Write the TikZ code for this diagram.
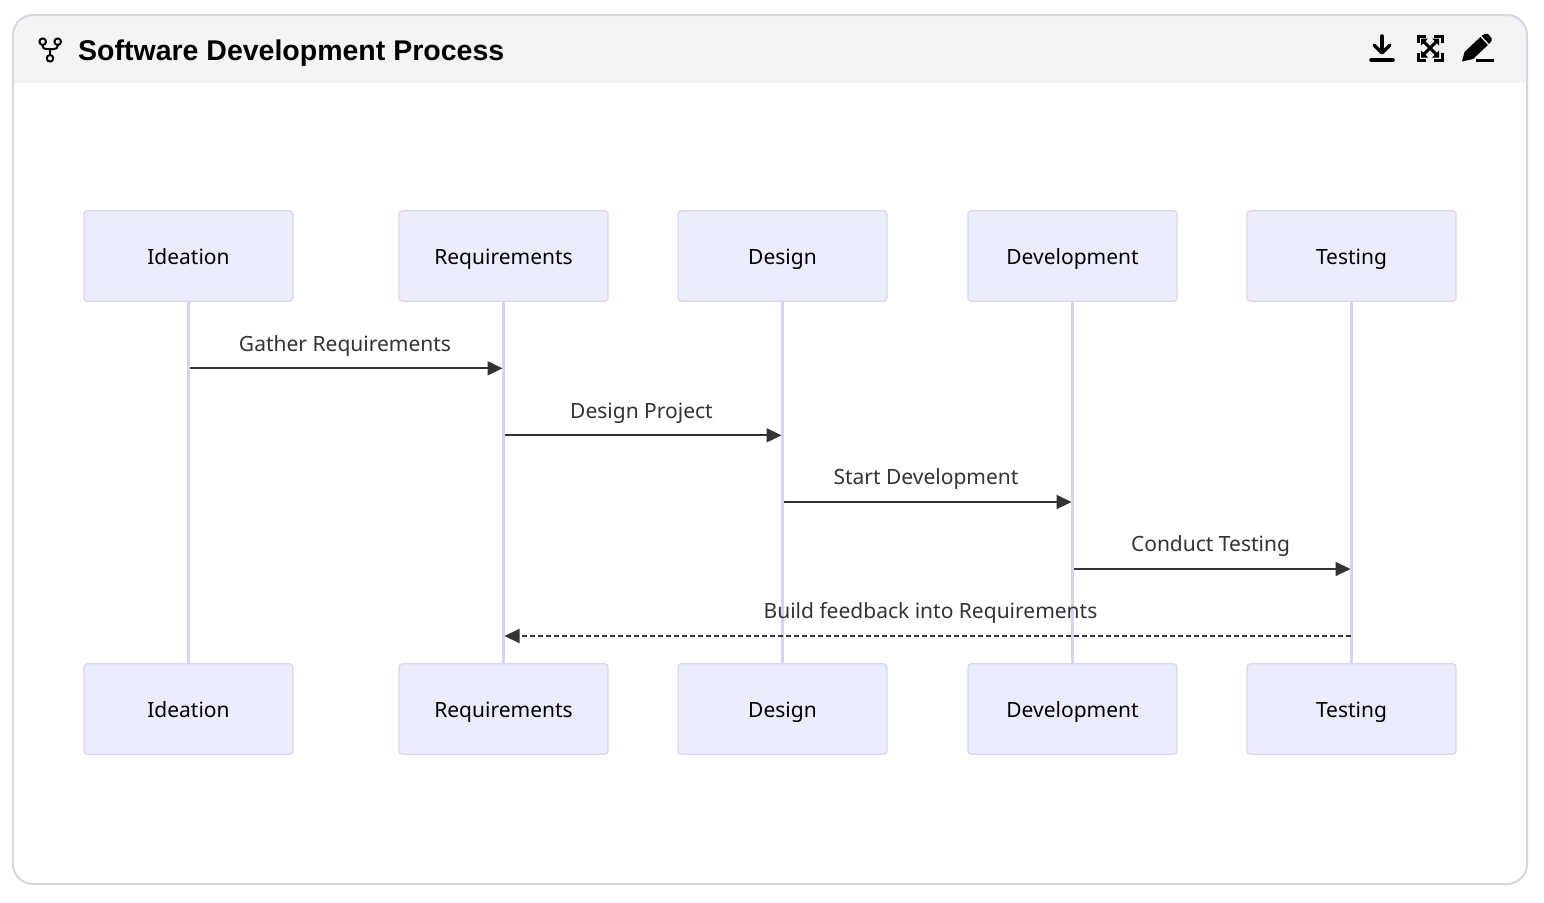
\documentclass[tikz,border=0pt]{standalone}
\usepackage{fontspec}
\setmainfont{Noto Sans}
\newfontfamily\titlefont{Liberation Sans}
\usetikzlibrary{arrows.meta}
\definecolor{actorfill}{HTML}{ECECFF}
\definecolor{actorline}{HTML}{DAD6F2}
\definecolor{lifeline}{HTML}{D8D3F3}
\definecolor{msgcol}{HTML}{333333}
\definecolor{cardline}{HTML}{D5D7DC}
\definecolor{headfill}{HTML}{F3F4F6}
\tikzset{
  actor/.style={draw=actorline,fill=actorfill,line width=1.3pt,rounded corners=3.5pt,minimum width=209pt,minimum height=90.5pt,inner sep=0pt,font=\fontsize{21}{26}\selectfont,text=black,text height=21pt,text depth=5pt},
  life/.style={draw=lifeline,line width=2.6pt},
  msg/.style={draw=msgcol,line width=2pt,-{Triangle[length=15pt,width=14pt]},shorten >=-0.5pt},
  msgtext/.style={font=\fontsize{21}{26}\selectfont,text=msgcol,inner sep=0pt,text height=21pt,text depth=5pt},
  icon/.style={draw=black,line width=2.4pt,line cap=round,line join=round}
}
\begin{document}
\begin{tikzpicture}[x=1pt,y=-1pt]
\useasboundingbox (0,0) rectangle (1544,902);
% card
\fill[white,rounded corners=20pt] (13,15) rectangle (1527,884);
\begin{scope}
\clip[rounded corners=20pt] (13,15) rectangle (1527,884);
\fill[headfill] (13,15) rectangle (1527,83);
\end{scope}
\draw[cardline,line width=2pt,rounded corners=20pt] (13,15) rectangle (1527,884);
% title
\node[anchor=base west,inner sep=0pt,text=black,font=\titlefont\bfseries\fontsize{28.5}{32}\selectfont] (title) at (78,60) {Software Development Process};
% title icon
\draw[icon,line width=2pt] (42.7,41.7) circle (3.3) (57.7,41.7) circle (3.3) (50,58.3) circle (3.3);
\draw[icon,line width=2pt] (42.7,45) -- (42.7,46) .. controls (42.7,48) and (44,49) .. (46,49) -- (54,49) .. controls (56,49) and (57.7,48) .. (57.7,46) -- (57.7,45) (50,49) -- (50,55);
% download icon
\draw[icon,line width=3.4pt] (1382,36) -- (1382,52);
\draw[icon,line width=3.4pt] (1374,45) -- (1382,53) -- (1390,45);
\draw[icon,line width=3.6pt] (1371,60) -- (1393,60);
% expand icon
\draw[icon,line width=3pt,line cap=butt,line join=miter] (1418,43) -- (1418,36) -- (1426,36) (1442,43) -- (1442,36) -- (1434,36) (1418,53) -- (1418,60) -- (1426,60) (1442,53) -- (1442,60) -- (1434,60);
\draw[icon,line width=3pt,line cap=butt] (1423,41) -- (1437,55) (1437,41) -- (1423,55);
\fill (1421,38.5) -- (1428,38.5) -- (1421,45.5) -- cycle (1439,38.5) -- (1432,38.5) -- (1439,45.5) -- cycle (1421,57.5) -- (1428,57.5) -- (1421,50.5) -- cycle (1439,57.5) -- (1432,57.5) -- (1439,50.5) -- cycle;
% pencil icon
\fill (1462,61.5) -- (1464.5,52) -- (1482,35.5) -- (1485,33.8) -- (1488,34) -- (1491.5,38) -- (1491.5,41) -- (1489,44) -- (1473,59) -- cycle;
\draw[white,line width=1.2pt] (1480.5,36) -- (1488.5,44.5);
\draw[icon,line width=2.2pt,line cap=butt] (1476,60.5) -- (1493.5,60.5);
% lifelines and actors
\node[actor] (a1) at (188.5,256) {Ideation};
\node[actor] (a2) at (503.5,256) {Requirements};
\node[actor] (a3) at (782.5,256) {Design};
\node[actor] (a4) at (1072.5,256) {Development};
\node[actor] (a5) at (1351.5,256) {Testing};
\node[actor] (b1) at (188.5,709) {Ideation};
\node[actor] (b2) at (503.5,709) {Requirements};
\node[actor] (b3) at (782.5,709) {Design};
\node[actor] (b4) at (1072.5,709) {Development};
\node[actor] (b5) at (1351.5,709) {Testing};
\foreach \i in {1,...,5} \draw[life] (a\i.south) -- (b\i.north);
% message anchors
\coordinate (m1s) at (190,368.3); \coordinate (m1e) at (502,368.3);
\coordinate (m2s) at (505,435.3); \coordinate (m2e) at (781,435.3);
\coordinate (m3s) at (784,502); \coordinate (m3e) at (1071,502);
\coordinate (m4s) at (1074,569); \coordinate (m4e) at (1350,569);
\coordinate (m5s) at (1351,636); \coordinate (m5e) at (505,636);
\draw[msg] (m1s) -- (m1e);
\draw[msg] (m2s) -- (m2e);
\draw[msg] (m3s) -- (m3e);
\draw[msg] (m4s) -- (m4e);
\draw[msg,dash pattern=on 5pt off 3pt] (m5s) -- (m5e);
\node[msgtext] (t1) at (345,343) {Gather Requirements};
\node[msgtext] (t2) at (641.5,410) {Design Project};
\node[msgtext] (t3) at (926,476) {Start Development};
\node[msgtext] (t4) at (1210.5,543) {Conduct Testing};
\node[msgtext] (t5) at (930.5,610) {Build feedback into Requirements};
\end{tikzpicture}
\end{document}
